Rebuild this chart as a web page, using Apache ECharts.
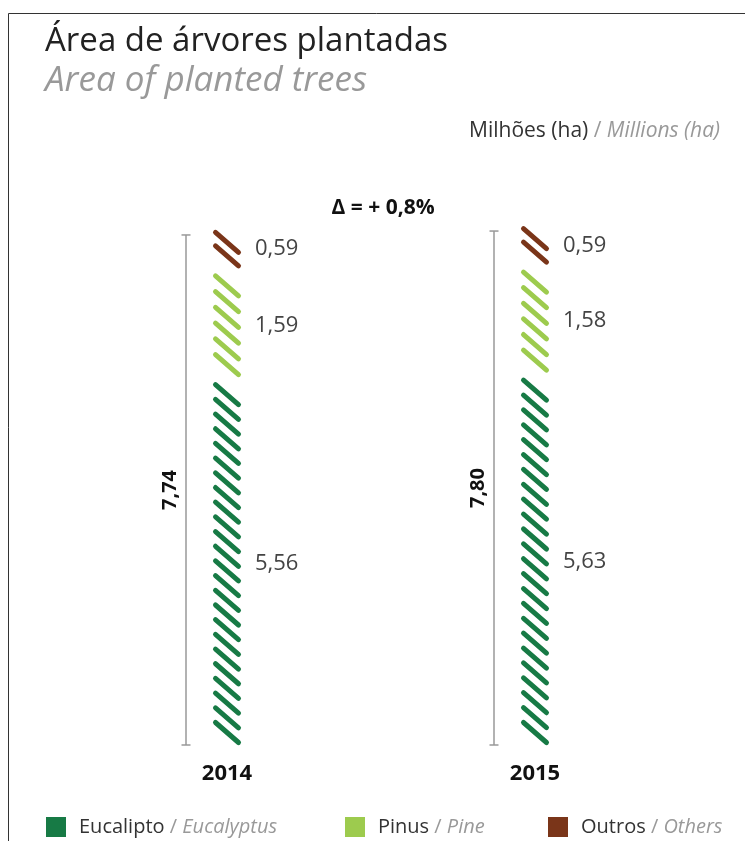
<!DOCTYPE html>
<html>
<head>
<meta charset="utf-8">
<script src="https://cdn.jsdelivr.net/npm/echarts@6/dist/echarts.min.js"></script>
<style>
  html, body { margin: 0; padding: 0; background: #fff; }
  #chart { width: 745px; height: 841px; }
</style>
</head>
<body>
<div id="chart"></div>
<script>
// Planted area by species, millions of hectares
const years = ['2014', '2015'];
const eucalipto = [5.56, 5.63];
const pinus = [1.59, 1.58];
const outros = [0.59, 0.59];
const totals = [7.74, 7.80];
const variation = 'Δ = + 0,8%';
const speciesPt = ['Eucalipto', 'Pinus', 'Outros'];
const speciesEn = ['Eucalyptus', 'Pine', 'Others'];
const speciesColors = ['#177a45', '#9dcb4e', '#7a3519'];

const FONT = '"Open Sans", Lato, sans-serif';
const fmt = v => v.toFixed(2).replace('.', ',');

// stack the three layers per year: [yearIndex, start, end, value, layer]
const layers = [eucalipto, pinus, outros];
const segmentData = layers.map((vals, layer) =>
  vals.map((v, yi) => {
    let start = 0;
    for (let k = 0; k < layer; k++) start += layers[k][yi];
    return [yi, start, start + v, v, layer];
  })
);

const GAP = 5;        // vertical gap between stacked layers (px)
const HALF_W = 11.5;  // half horizontal span of one hatch stroke
const STROKE_H = 20;  // vertical drop of one hatch stroke
const STEP = 15;      // nominal spacing between strokes
const STROKE_W = 5;

function renderSegment(params, api) {
  const yi = api.value(0);
  const layer = api.value(4);
  const base = api.coord([yi, api.value(1)]);
  const top = api.coord([yi, api.value(2)]);
  const cx = base[0];
  const yBottom = base[1] - layer * GAP;
  const yTop = top[1] - layer * GAP;
  const color = api.visual('color');
  const pad = STROKE_W / 2;
  const span = yBottom - yTop - STROKE_H - 2 * pad;
  const n = Math.max(1, Math.round(span / STEP) + 1);
  const step = n > 1 ? span / (n - 1) : 0;
  const children = [];
  for (let i = 0; i < n; i++) {
    const y0 = yTop + pad + i * step;
    children.push({
      type: 'line',
      shape: { x1: cx - HALF_W, y1: y0, x2: cx + HALF_W, y2: y0 + STROKE_H },
      style: { stroke: color, lineWidth: STROKE_W, lineCap: 'round' }
    });
  }
  children.push({
    type: 'text',
    x: cx + 28,
    y: (yTop + yBottom) / 2,
    style: {
      text: fmt(api.value(3)),
      align: 'left',
      verticalAlign: 'middle',
      font: '22px ' + FONT,
      fill: '#444'
    }
  });
  return { type: 'group', children };
}

function renderTotal(params, api) {
  const yi = api.value(0);
  const base = api.coord([yi, 0]);
  const top = api.coord([yi, api.value(1)]);
  const x = base[0] - 41;
  const y1 = top[1] - 5;
  const y2 = base[1];
  const lineStyle = { stroke: '#999', lineWidth: 1.5 };
  return {
    type: 'group',
    children: [
      { type: 'line', shape: { x1: x, y1: y1, x2: x, y2: y2 }, style: lineStyle },
      { type: 'line', shape: { x1: x - 4.5, y1: y1, x2: x + 4.5, y2: y1 }, style: lineStyle },
      { type: 'line', shape: { x1: x - 4.5, y1: y2, x2: x + 4.5, y2: y2 }, style: lineStyle },
      {
        type: 'text',
        x: x - 16,
        y: (y1 + y2) / 2,
        rotation: Math.PI / 2,
        style: {
          text: fmt(api.value(1)),
          align: 'center',
          verticalAlign: 'middle',
          font: 'bold 20px ' + FONT,
          fill: '#111'
        }
      }
    ]
  };
}

const chart = echarts.init(document.getElementById('chart'));

const series = segmentData.map((data, i) => ({
  name: speciesPt[i],
  type: 'custom',
  renderItem: renderSegment,
  encode: { x: 0, y: [1, 2] },
  itemStyle: { color: speciesColors[i] },
  data: data
}));
series.push({
  name: 'total',
  type: 'custom',
  renderItem: renderTotal,
  encode: { x: 0, y: 1 },
  data: totals.map((t, yi) => [yi, t])
});

const legendLeft = [46, 345, 548];

chart.setOption({
  animation: false,
  grid: { left: 73, right: 56, top: 223, bottom: 96 },
  xAxis: {
    type: 'category',
    data: years,
    axisLine: { show: false },
    axisTick: { show: false },
    axisLabel: {
      margin: 18,
      fontFamily: FONT,
      fontWeight: 'bold',
      fontSize: 22,
      color: '#111'
    }
  },
  yAxis: { type: 'value', min: 0, max: 8, show: false },
  legend: speciesPt.map((name, i) => ({
    data: [name],
    left: legendLeft[i],
    top: 817,
    padding: 0,
    icon: 'rect',
    itemWidth: 20,
    itemHeight: 20,
    formatter: n => `{a|${n}}{s| / }{b|${speciesEn[i]}}`,
    textStyle: {
      rich: {
        a: { fontFamily: FONT, fontSize: 20, color: '#333', padding: [0, 0, 0, 8] },
        s: { fontFamily: FONT, fontSize: 20, color: '#999' },
        b: { fontFamily: FONT, fontSize: 20, color: '#999', fontStyle: 'italic' }
      }
    }
  })),
  graphic: [
    {
      type: 'polyline',
      shape: { points: [[8.5, 841], [8.5, 13.5], [745, 13.5]] },
      style: { stroke: '#333', lineWidth: 1, fill: null }
    },
    {
      type: 'text', x: 45, y: 42,
      style: { text: 'Área de árvores plantadas', font: '33px ' + FONT, fill: '#222', verticalAlign: 'middle' }
    },
    {
      type: 'text', x: 45, y: 81,
      style: { text: 'Area of planted trees', font: 'italic 35px ' + FONT, fill: '#999', verticalAlign: 'middle' }
    },
    {
      type: 'text', x: 720, y: 131,
      style: {
        text: '{a|Milhões (ha)}{b| / }{c|Millions (ha)}',
        align: 'right',
        verticalAlign: 'middle',
        rich: {
          a: { fontFamily: FONT, fontSize: 21, fill: '#333' },
          b: { fontFamily: FONT, fontSize: 21, fill: '#999' },
          c: { fontFamily: FONT, fontSize: 21, fill: '#999', fontStyle: 'italic' }
        }
      }
    },
    {
      type: 'text', x: 383, y: 208,
      style: { text: variation, font: 'bold 21px ' + FONT, fill: '#111', align: 'center', verticalAlign: 'middle' }
    }
  ],
  series: series
});
</script>
</body>
</html>
